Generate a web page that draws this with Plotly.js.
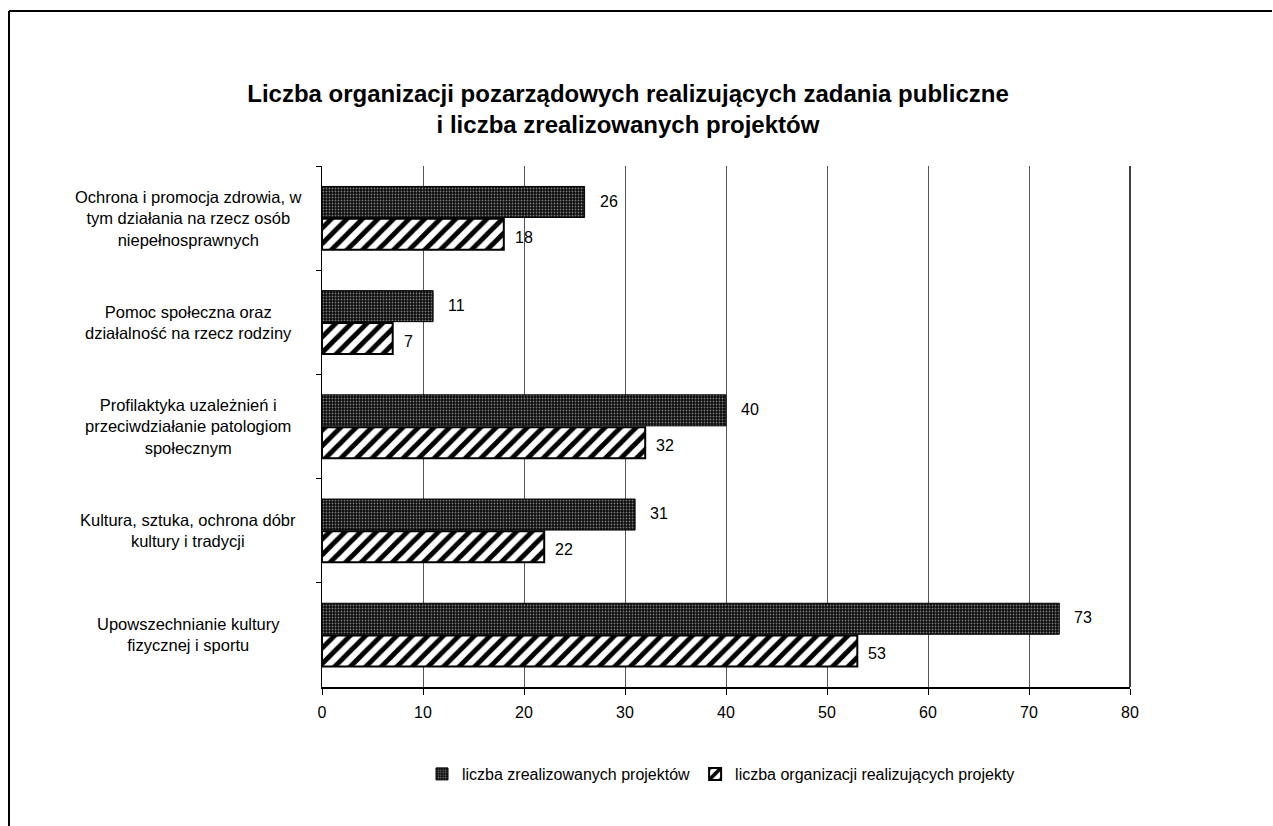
<!DOCTYPE html>
<html>
<head>
<meta charset="utf-8">
<script src="https://cdn.plot.ly/plotly-3.0.1.min.js"></script>
<style>html,body{margin:0;padding:0;background:#fff;}</style>
</head>
<body>
<div id="chart" style="width:1273px;height:826px;"></div>
<script>
var categories = [
  "Ochrona i promocja zdrowia, w<br>tym działania na rzecz osób<br>niepełnosprawnych",
  "Pomoc społeczna oraz<br>działalność na rzecz rodziny",
  "Profilaktyka uzależnień i<br>przeciwdziałanie patologiom<br>społecznym",
  "Kultura, sztuka, ochrona dóbr<br>kultury i tradycji",
  "Upowszechnianie kultury<br>fizycznej i sportu"
];
var projects = [26, 11, 40, 31, 73];
var organizations = [18, 7, 32, 22, 53];
var seriesNames = ["liczba zrealizowanych projektów", "liczba organizacji realizujących projekty"];
var xTicks = [0, 10, 20, 30, 40, 50, 60, 70, 80];

var W = 1273, H = 826;
var M = {l: 322, r: 143, t: 166, b: 139};
var pw = W - M.l - M.r, ph = H - M.t - M.b;
function px2paperX(px){ return (px - M.l) / pw; }
function px2paperY(py){ return (H - M.b - py) / ph; }

var font = "Liberation Sans Narrow, Arial Narrow, Liberation Sans, Arial, sans-serif";

var traces = [
  {
    type: "bar", orientation: "h", name: seriesNames[0],
    y: categories, x: projects,
    marker: {
      color: "#0a0a0a",
      line: {color: "#000", width: 1},
      pattern: {shape: ".", fgcolor: "#7a7a7a", bgcolor: "#0a0a0a", size: 3, solidity: 0.3}
    },
    hoverinfo: "x"
  },
  {
    type: "bar", orientation: "h", name: seriesNames[1],
    y: categories, x: organizations,
    marker: {
      color: "#fff",
      line: {color: "#000", width: 2},
      pattern: {shape: "/", fgcolor: "#000", bgcolor: "#fff", size: 11, solidity: 0.45}
    },
    hoverinfo: "x"
  }
];

var annotations = [];
categories.forEach(function(c, i){
  annotations.push({
    xref: "paper", x: px2paperX(188), y: c, yref: "y",
    text: c, showarrow: false, xanchor: "center", yanchor: "middle", align: "center",
    font: {family: font, size: 16.5, color: "#000"}
  });
  annotations.push({
    x: projects[i], y: c, text: String(projects[i]), showarrow: false,
    xanchor: "left", yanchor: "middle", xshift: 13, yshift: 17,
    font: {family: font, size: 16, color: "#000"}
  });
  annotations.push({
    x: organizations[i], y: c, text: String(organizations[i]), showarrow: false,
    xanchor: "left", yanchor: "middle", xshift: 9, yshift: -19,
    font: {family: font, size: 16, color: "#000"}
  });
});

var shapes = [
  {type: "line", xref: "paper", yref: "paper",
   x0: px2paperX(9), x1: px2paperX(1272), y0: px2paperY(11), y1: px2paperY(11),
   line: {color: "#000", width: 2}},
  {type: "line", xref: "paper", yref: "paper",
   x0: px2paperX(9), x1: px2paperX(9), y0: px2paperY(11), y1: px2paperY(826),
   line: {color: "#000", width: 2}},
  {type: "line", xref: "paper", yref: "paper", x0: 1, x1: 1, y0: 0, y1: 1,
   line: {color: "#000", width: 1.5}}
];

var layout = {
  width: W, height: H,
  margin: M,
  paper_bgcolor: "#fff", plot_bgcolor: "#fff",
  title: {
    text: "<b>Liczba organizacji pozarządowych realizujących zadania publiczne<br>i liczba zrealizowanych projektów</b>",
    font: {family: "Liberation Sans, Arial, sans-serif", size: 24, color: "#000"},
    x: 628 / W, xanchor: "center", y: 1 - 102 / H, yanchor: "top"
  },
  barmode: "group",
  bargap: 0.38,
  bargroupgap: 0.04,
  xaxis: {
    range: [0, 80], tickvals: xTicks, ticktext: xTicks.map(String),
    showgrid: true, gridcolor: "#555", gridwidth: 1,
    showline: true, linecolor: "#000", linewidth: 1.5,
    ticks: "outside", ticklen: 6, tickcolor: "#000",
    ticklabelstandoff: 4,
    zeroline: false,
    tickfont: {family: font, size: 16, color: "#000"}
  },
  yaxis: {
    type: "category", autorange: "reversed",
    showticklabels: false, showgrid: false,
    showline: true, linecolor: "#000", linewidth: 1,
    ticks: "outside", tickson: "boundaries", ticklen: 5, tickcolor: "#000",
    zeroline: false
  },
  showlegend: true,
  legend: {
    orientation: "h", x: px2paperX(721), xanchor: "center",
    y: px2paperY(774), yanchor: "middle",
    font: {family: font, size: 16, color: "#000"},
    itemwidth: 30, tracegroupgap: 0
  },
  annotations: annotations,
  shapes: shapes
};

Plotly.newPlot("chart", traces, layout, {displayModeBar: false, staticPlot: true});
</script>
</body>
</html>
